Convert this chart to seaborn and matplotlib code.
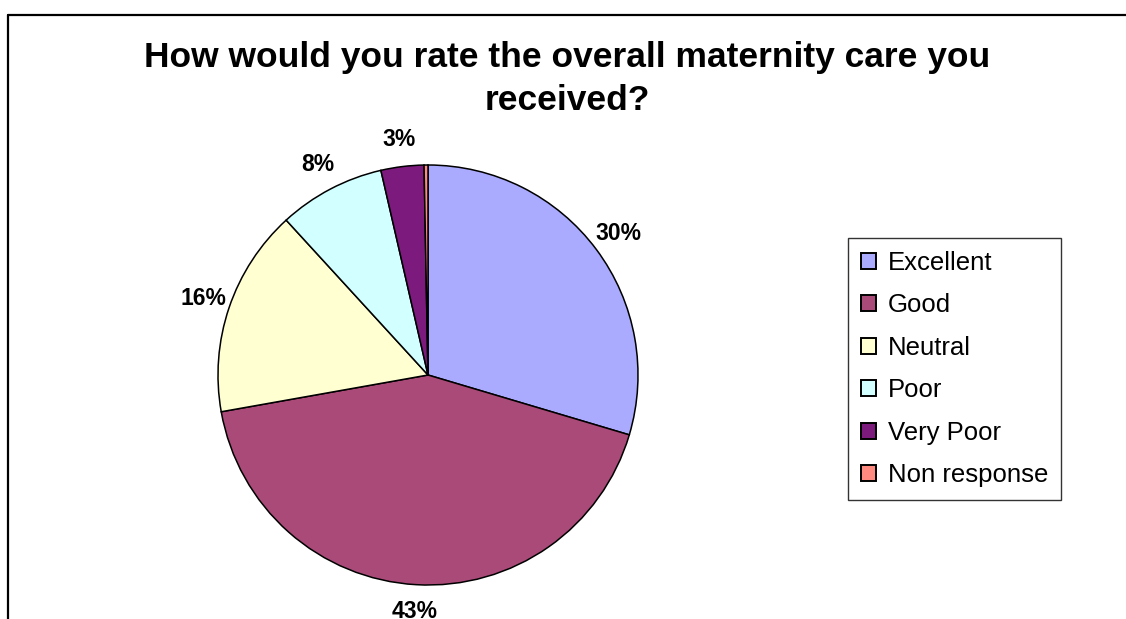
import matplotlib
matplotlib.use("Agg")
import matplotlib.pyplot as plt
from matplotlib.lines import Line2D
import seaborn as sns

# Survey answers and their share (%)
categories = ["Excellent", "Good", "Neutral", "Poor", "Very Poor", "Non response"]
shares = [29.6, 42.6, 16.0, 8.2, 3.3, 0.3]
colours = ["#AAAAFF", "#AA4A78", "#FFFFD2", "#D2FFFF", "#7D1A7D", "#FF8A80"]
title = "How would you rate the overall maternity care you\nreceived?"

sns.set_theme(style="white")
plt.rcParams["font.family"] = ["Liberation Sans", "DejaVu Sans"]
plt.rcParams["text.color"] = "black"

fig = plt.figure(figsize=(11.26, 6.19), dpi=100)

# outer chart frame (only top and left edges are in view)
fig.add_artist(Line2D([8 / 1126, 1.0], [1 - 15 / 619, 1 - 15 / 619],
                      transform=fig.transFigure, color="black", lw=1.6))
fig.add_artist(Line2D([8 / 1126, 8 / 1126], [0.0, 1 - 15 / 619],
                      transform=fig.transFigure, color="black", lw=1.6))

ax = fig.add_axes([218 / 1126, 34 / 619, 420 / 1126, 420 / 619])


def pct_label(p):
    # the tiny non-response slice has no label
    return f"{p:.0f}%" if p >= 1 else ""


wedges, texts, autotexts = ax.pie(
    shares,
    colors=sns.color_palette(colours),
    startangle=90,
    counterclock=False,
    autopct=pct_label,
    pctdistance=1.13,
    wedgeprops=dict(edgecolor="black", linewidth=1.1),
    textprops=dict(fontsize=16.5, fontweight="bold", color="black"),
)
ax.set_xlim(-1, 1)
ax.set_ylim(-1, 1)
ax.set_aspect("equal")
ax.set_axis_off()

fig.text(567 / 1126, 1 - 79 / 619, title, ha="center", va="center",
         fontsize=25.5, fontweight="bold", linespacing=1.42, color="black")

leg = fig.legend(
    wedges, categories,
    loc="upper left",
    bbox_to_anchor=(848 / 1126, 1 - 238 / 619),
    fontsize=18.5,
    frameon=True,
    fancybox=False,
    edgecolor="black",
    handlelength=0.6,
    handleheight=0.6,
    handletextpad=0.45,
    labelspacing=0.72,
    borderpad=0.5,
    borderaxespad=0,
)
leg.get_frame().set_linewidth(1.0)
for h in leg.legend_handles:
    h.set_edgecolor("black")
    h.set_linewidth(1.4)

fig.savefig("out.png", dpi=100, facecolor="white")
